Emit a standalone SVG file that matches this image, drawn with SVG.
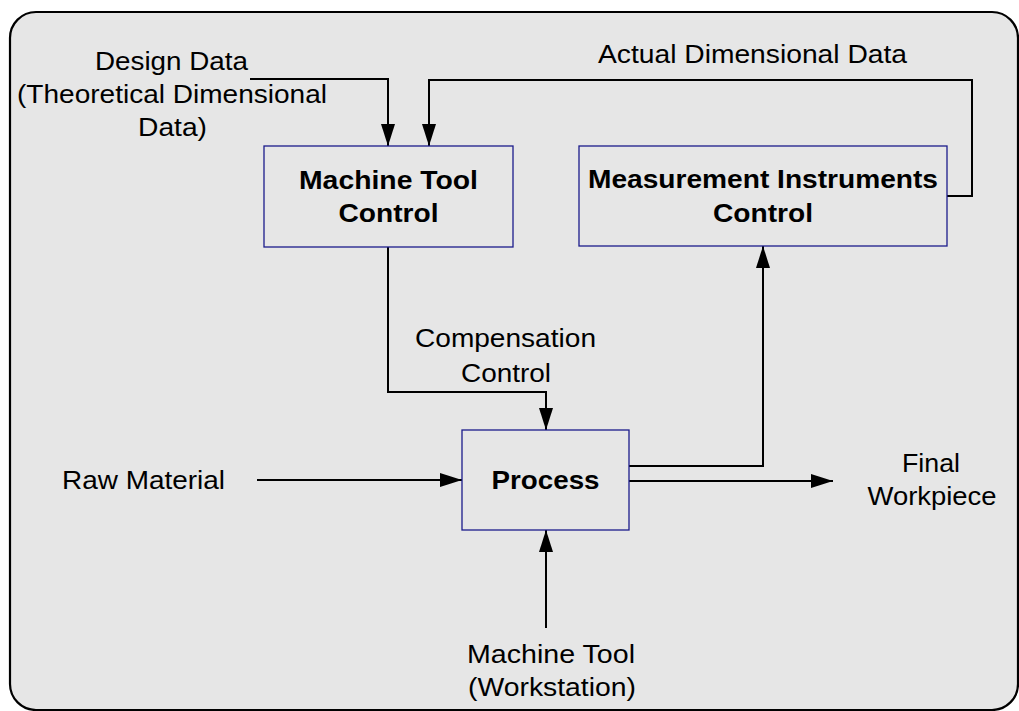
<svg xmlns="http://www.w3.org/2000/svg" width="1019" height="711" viewBox="0 0 1019 711">
<defs>
<style>
.bg{fill:#e6e6e6;stroke:#000;stroke-width:2.2}
.box{fill:none;stroke:#1c1c8c;stroke-width:1.3}
.ln{fill:none;stroke:#000;stroke-width:2}
.t{font-family:"Liberation Sans",Arial,sans-serif;font-size:25px;fill:#000;text-anchor:middle}
.b{font-weight:bold}
</style>
<marker id="ah" markerUnits="userSpaceOnUse" markerWidth="22" markerHeight="14" refX="22" refY="7" orient="auto">
<path d="M0,0 L22,7 L0,14 z" fill="#000"/>
</marker>
</defs>
<rect class="bg" x="10" y="12" width="1008" height="698" rx="26" ry="26"/>
<g id="connectors">
<polyline class="ln" points="250,79 388,79 388,146" marker-end="url(#ah)"/>
<polyline class="ln" points="947,196 972,196 972,80 429,80 429,146" marker-end="url(#ah)"/>
<polyline class="ln" points="388,247 388,392 546,392 546,430" marker-end="url(#ah)"/>
<line class="ln" x1="257" y1="480" x2="462" y2="480" marker-end="url(#ah)"/>
<polyline class="ln" points="629,466 763,466 763,246" marker-end="url(#ah)"/>
<line class="ln" x1="629" y1="481" x2="833" y2="481" marker-end="url(#ah)"/>
<line class="ln" x1="546" y1="628" x2="546" y2="530" marker-end="url(#ah)"/>
</g>
<g id="machine-tool-control">
<rect class="box" x="264" y="146" width="249" height="101"/>
<text class="t b" x="388.5" y="189" textLength="179" lengthAdjust="spacingAndGlyphs">Machine Tool</text>
<text class="t b" x="388.5" y="222" textLength="100" lengthAdjust="spacingAndGlyphs">Control</text>
</g>
<g id="measurement-control">
<rect class="box" x="579" y="146" width="368" height="100"/>
<text class="t b" x="763" y="188" textLength="350" lengthAdjust="spacingAndGlyphs">Measurement Instruments</text>
<text class="t b" x="763" y="222" textLength="100" lengthAdjust="spacingAndGlyphs">Control</text>
</g>
<g id="process">
<rect class="box" x="462" y="430" width="167" height="100"/>
<text class="t b" x="545.5" y="489" textLength="108" lengthAdjust="spacingAndGlyphs">Process</text>
</g>
<g id="design-data">
<text class="t" x="171.5" y="70" textLength="153" lengthAdjust="spacingAndGlyphs">Design Data</text>
<text class="t" x="172" y="103" textLength="310" lengthAdjust="spacingAndGlyphs">(Theoretical Dimensional</text>
<text class="t" x="172.5" y="136" textLength="69" lengthAdjust="spacingAndGlyphs">Data)</text>
</g>
<g id="actual-data">
<text class="t" x="752.5" y="63" textLength="309" lengthAdjust="spacingAndGlyphs">Actual Dimensional Data</text>
</g>
<g id="compensation">
<text class="t" x="505.5" y="347" textLength="181" lengthAdjust="spacingAndGlyphs">Compensation</text>
<text class="t" x="506" y="382" textLength="90" lengthAdjust="spacingAndGlyphs">Control</text>
</g>
<g id="raw-material">
<text class="t" x="143.5" y="489" textLength="163" lengthAdjust="spacingAndGlyphs">Raw Material</text>
</g>
<g id="final-workpiece">
<text class="t" x="931" y="472" textLength="58" lengthAdjust="spacingAndGlyphs">Final</text>
<text class="t" x="932" y="505" textLength="129" lengthAdjust="spacingAndGlyphs">Workpiece</text>
</g>
<g id="machine-tool">
<text class="t" x="551" y="663" textLength="168" lengthAdjust="spacingAndGlyphs">Machine Tool</text>
<text class="t" x="552" y="696" textLength="168" lengthAdjust="spacingAndGlyphs">(Workstation)</text>
</g>
</svg>
